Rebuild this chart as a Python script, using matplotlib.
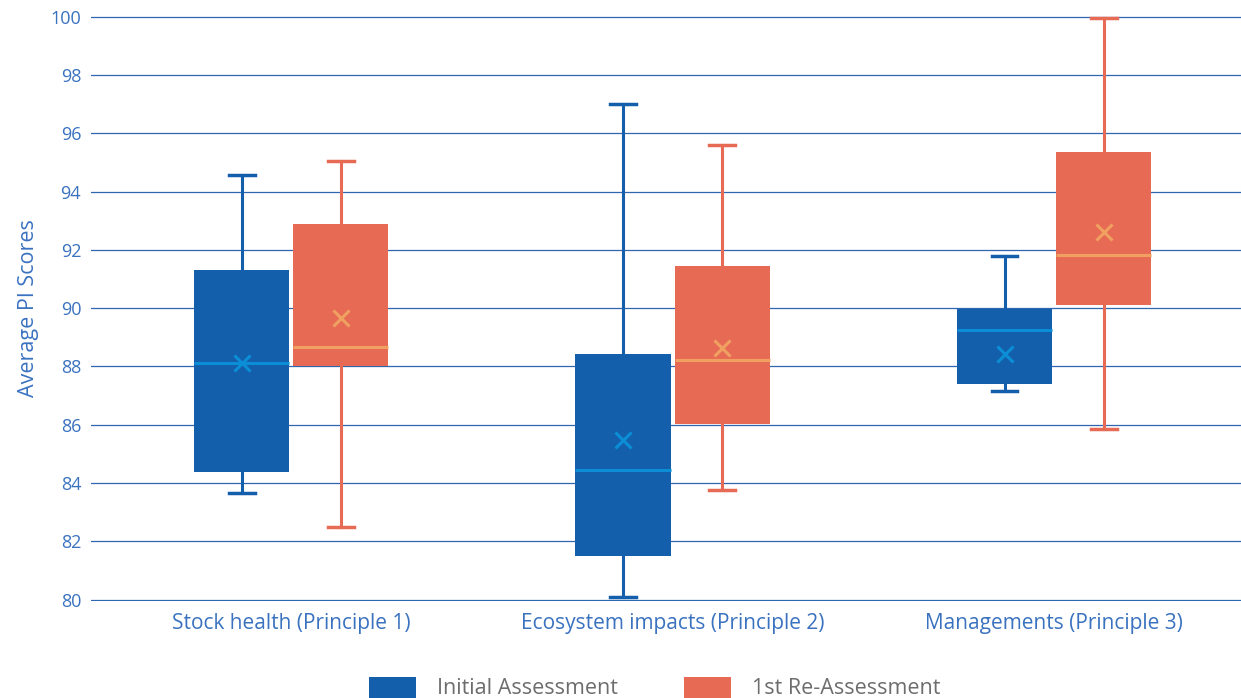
import matplotlib
matplotlib.use("Agg")
import matplotlib.pyplot as plt
from matplotlib.patches import Rectangle

plt.rcParams['font.family'] = ['Open Sans', 'DejaVu Sans']

# values
categories = ["Stock health (Principle 1)", "Ecosystem impacts (Principle 2)", "Managements (Principle 3)"]
series = ["Initial Assessment", "1st Re-Assessment"]

initial_whislo = [83.64, 80.07, 87.17]
initial_q1 = [84.39, 81.51, 87.41]
initial_med = [88.13, 84.46, 89.26]
initial_mean = [88.13, 85.49, 88.44]
initial_q3 = [91.32, 88.44, 89.98]
initial_whishi = [94.58, 97.02, 91.80]

reassess_whislo = [82.50, 83.77, 85.87]
reassess_q1 = [88.00, 86.04, 90.12]
reassess_med = [88.68, 88.23, 91.84]
reassess_mean = [89.67, 88.64, 92.62]
reassess_q3 = [92.90, 91.46, 95.37]
reassess_whishi = [95.06, 95.61, 99.97]

yticks = list(range(80, 101, 2))

BLUE = "#135fab"
BLUE_MED = "#0b8ed6"
RED = "#e76a55"
RED_MED = "#f0a060"
AXIS_BLUE = "#3a72c0"
GRID = "#2f66b0"


def make_stats(lo, q1, med, mean, q3, hi):
    out = []
    for i in range(len(lo)):
        out.append(dict(whislo=lo[i], q1=q1[i], med=med[i], mean=mean[i],
                        q3=q3[i], whishi=hi[i], fliers=[]))
    return out


fig = plt.figure(figsize=(12.41, 6.98), dpi=100)
ax = fig.add_axes([0.0733, 0.1390, 0.9267, 0.8380])

offset = 0.13
width = 0.25
groups = list(range(len(categories)))

for stats, shift, col, medcol in [
    (make_stats(initial_whislo, initial_q1, initial_med, initial_mean, initial_q3, initial_whishi), -offset, BLUE, BLUE_MED),
    (make_stats(reassess_whislo, reassess_q1, reassess_med, reassess_mean, reassess_q3, reassess_whishi), offset, RED, RED_MED),
]:
    ax.bxp(stats, positions=[g + shift for g in groups], widths=width,
           patch_artist=True, showmeans=True, showcaps=True,
           boxprops=dict(facecolor=col, edgecolor=col, linewidth=0),
           medianprops=dict(color=medcol, linewidth=2.2),
           whiskerprops=dict(color=col, linewidth=2.2),
           capprops=dict(color=col, linewidth=2.5),
           capwidths=0.068,
           meanprops=dict(marker="x", markeredgecolor=medcol, markersize=11,
                          markeredgewidth=2.2),
           zorder=3)

ax.set_xlim(-0.525, 2.49)
ax.set_ylim(79.95, 100.03)
ax.set_yticks(yticks)
ax.set_xticks(groups)
ax.set_xticklabels(categories)
ax.yaxis.grid(True, color=GRID, linewidth=0.9, zorder=0)
ax.set_axisbelow(True)
for s in ax.spines.values():
    s.set_visible(False)
ax.tick_params(axis="both", length=0, colors=AXIS_BLUE)
ax.tick_params(axis="y", labelsize=13, pad=7)
ax.tick_params(axis="x", labelsize=15, pad=9)
ax.set_ylabel("Average PI Scores", color=AXIS_BLUE, fontsize=15.5, labelpad=8)

# legend at the bottom edge
leg_x = [369, 684]
txt_x = [437, 752]
for lx, tx, col, name in zip(leg_x, txt_x, [BLUE, RED], series):
    fig.patches.append(Rectangle((lx / 1241, 0), 47 / 1241, 21 / 698,
                                 transform=fig.transFigure, facecolor=col,
                                 edgecolor="none"))
    fig.text(tx / 1241, 10 / 698, name, color="#6d6d6d", fontsize=15.5,
             va="center", ha="left")

fig.savefig("out.png", dpi=100)
